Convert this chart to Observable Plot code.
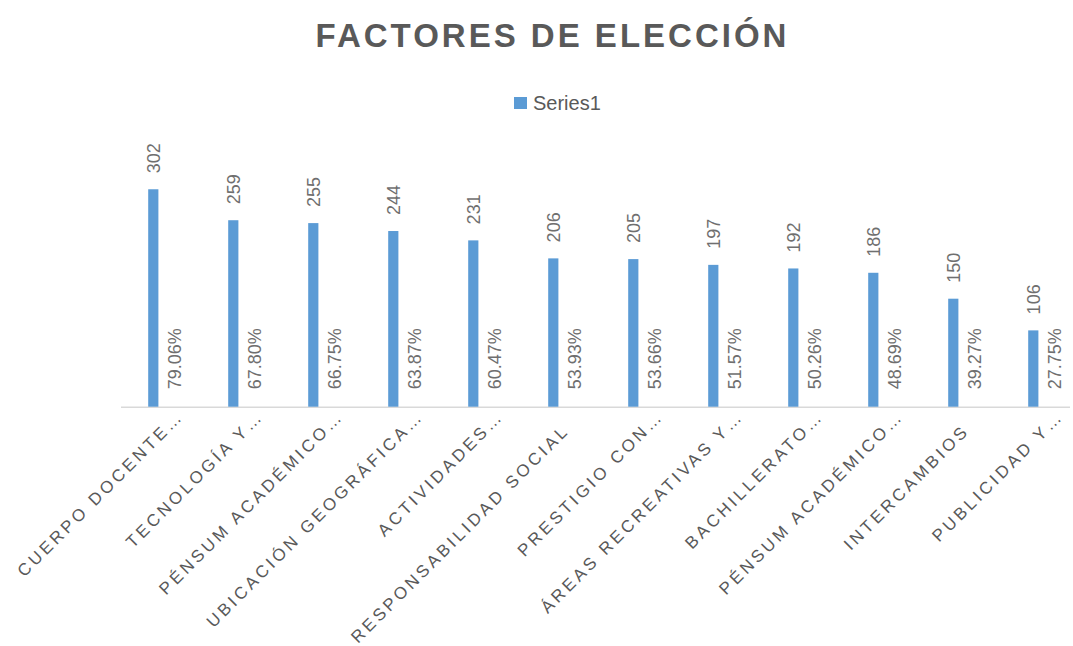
<!DOCTYPE html>
<html>
<head>
<meta charset="utf-8">
<script src="https://cdn.jsdelivr.net/npm/d3@7"></script>
<script src="https://cdn.jsdelivr.net/npm/@observablehq/plot@0.6"></script>
<style>
  html, body { margin: 0; padding: 0; background: #ffffff; }
  #wrap { width: 1073px; height: 646px; position: relative; overflow: hidden; background: #fff; }
  #title { box-sizing: border-box; height: 62px; padding-top: 18.8px; padding-left: 32px; text-align: center;
    font: bold 33px/33px "Liberation Sans", Arial, sans-serif; letter-spacing: 3px; color: #595959; }
  #legend { position: relative; height: 58px; }
  #legend .sw { position: absolute; left: 514px; top: 35.3px; width: 12.7px; height: 12px; background: #5B9BD5; }
  #legend .lb { position: absolute; left: 533px; top: 31px; font: 20px/20px "Liberation Sans", Arial, sans-serif; color: #595959; }
  svg { display: block; }
</style>
</head>
<body>
<div id="wrap">
  <div id="title">FACTORES DE ELECCIÓN</div>
  <div id="legend"><span class="sw"></span><span class="lb">Series1</span></div>
  <div id="chart"></div>
</div>
<script>
const categories = ["CUERPO DOCENTE", "TECNOLOGÍA Y", "PÉNSUM ACADÉMICO", "UBICACIÓN GEOGRÁFICA", "ACTIVIDADES",
  "RESPONSABILIDAD SOCIAL", "PRESTIGIO CON", "ÁREAS RECREATIVAS Y", "BACHILLERATO", "PÉNSUM ACADÉMICO",
  "INTERCAMBIOS", "PUBLICIDAD Y"];
const truncated = [true, true, true, true, true, false, true, true, true, true, false, true];
const values = [302, 259, 255, 244, 231, 206, 205, 197, 192, 186, 150, 106];
const percents = [79.06, 67.80, 66.75, 63.87, 60.47, 53.93, 53.66, 51.57, 50.26, 48.69, 39.27, 27.75];

const rows = categories.map((c, i) => ({i, label: c, value: values[i], pct: percents[i], trunc: truncated[i]}));

const chart = Plot.plot({
  width: 1073,
  height: 526,
  marginLeft: 121,
  marginRight: 3,
  marginTop: 34.7,
  marginBottom: 239.3,
  x: {type: "band", domain: d3.range(categories.length), range: [121, 1087], padding: 0, axis: null},
  y: {domain: [0, 350], axis: null},
  style: {fontFamily: "'Liberation Sans', Arial, sans-serif", background: "white"},
  marks: [
    Plot.ruleY([0], {stroke: "#d9d9d9", strokeWidth: 1.5}),
    Plot.barY(rows, {x: "i", y: "value", fill: "#5B9BD5", insetLeft: 24.2, insetRight: 45.6}),
    Plot.text(rows, {x: "i", y: "value", text: d => String(d.value), rotate: -90, textAnchor: "start",
      dx: -10.7, dy: -16.5, fontSize: 18, fill: "#6f6f6f"}),
    Plot.text(rows, {x: "i", y: 0, text: d => d.pct.toFixed(2) + "%", rotate: -90, textAnchor: "start",
      dx: 10.7, dy: -18, fontSize: 18, fill: "#6f6f6f"}),
    Plot.text(rows, {x: "i", y: 0, text: "label", rotate: -45, textAnchor: "end",
      dx: 2, dy: 20.5, fontSize: 17, fill: "#595959"}),
    Plot.text(rows.filter(d => d.trunc), {x: "i", y: 0, text: d => "…", rotate: -45, textAnchor: "start",
      dx: 2, dy: 20.5, fontSize: 17, fill: "#595959"})
  ]
});
d3.select(chart).selectAll("text")
  .filter(function() { return categories.includes(this.textContent); })
  .style("letter-spacing", "3.3px");
document.getElementById("chart").appendChild(chart);
</script>
</body>
</html>
